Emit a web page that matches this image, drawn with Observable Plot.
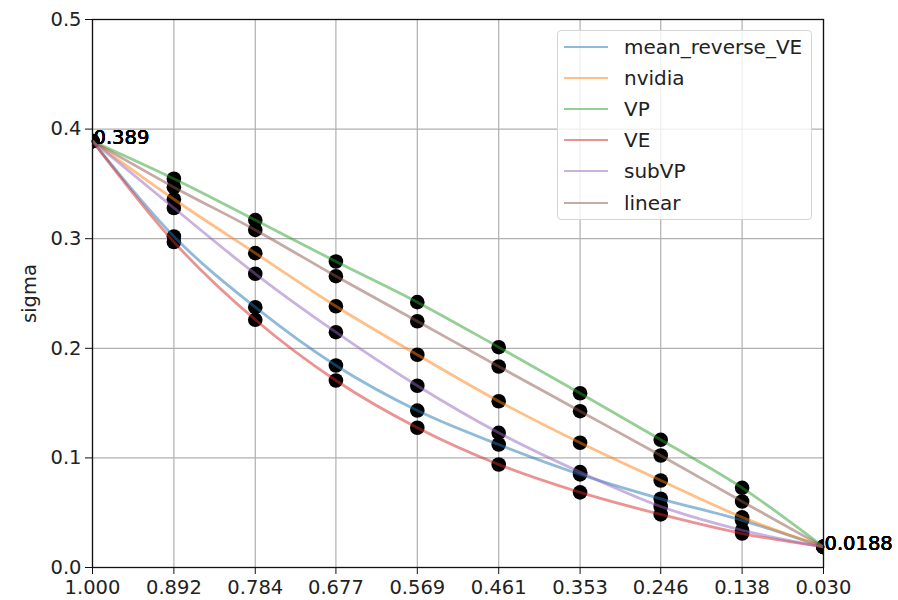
<!DOCTYPE html>
<html>
<head>
<meta charset="utf-8">
<script src="https://cdn.jsdelivr.net/npm/d3@7"></script>
<script src="https://cdn.jsdelivr.net/npm/@observablehq/plot@0.6"></script>
<style>
  body { margin: 0; background: white; }
  #wrap { position: relative; width: 898px; height: 600px; font-family: "DejaVu Sans", sans-serif; }
  #legend { position: absolute; left: 557px; top: 30px; width: 255px; height: 190px;
    background: rgba(255,255,255,0.8); border: 1px solid #d5d5d5; border-radius: 4px; box-sizing: border-box; }
  .row { position: absolute; left: 0; height: 31px; width: 100%; }
  .swatch { position: absolute; left: 6px; width: 44px; height: 0; border-top: 2.8px solid; }
  .lab { position: absolute; left: 66px; font-size: 20px; color: #222; line-height: 20px; }
</style>
</head>
<body>
<div id="wrap"></div>
<script>
const tTicks = [1.000, 0.892, 0.784, 0.677, 0.569, 0.461, 0.353, 0.246, 0.138, 0.030];
const yTicks = [0, 0.1, 0.2, 0.3, 0.4, 0.5];

const seriesNames = ["mean_reverse_VE", "nvidia", "VP", "VE", "subVP", "linear"];
const seriesColors = ["#1f77b4", "#ff7f0e", "#2ca02c", "#d62728", "#9467bd", "#8c564b"];

const meanReverseVE = [0.389, 0.302, 0.2375, 0.1843, 0.1432, 0.1122, 0.085, 0.0627, 0.043, 0.0188];
const nvidia        = [0.389, 0.336, 0.2868, 0.2384, 0.1941, 0.1517, 0.1138, 0.0794, 0.0458, 0.0188];
const VP            = [0.389, 0.3547, 0.317, 0.2792, 0.2421, 0.201, 0.159, 0.1165, 0.0727, 0.0188];
const VE            = [0.389, 0.297, 0.226, 0.1706, 0.1275, 0.094, 0.0685, 0.0484, 0.031, 0.0188];
const subVP         = [0.389, 0.328, 0.268, 0.2147, 0.1658, 0.1229, 0.087, 0.0557, 0.034, 0.0188];
const linear        = [0.389, 0.347, 0.308, 0.2658, 0.2247, 0.1834, 0.1426, 0.1022, 0.0602, 0.0188];

const seriesValues = [meanReverseVE, nvidia, VP, VE, subVP, linear];

const data = [];
seriesNames.forEach((name, si) => {
  seriesValues[si].forEach((v, i) => data.push({series: name, t: tTicks[i], sigma: v}));
});
const annot = [];
seriesNames.forEach((name, si) => {
  const vals = seriesValues[si];
  annot.push({t: tTicks[0], sigma: vals[0], label: String(vals[0])});
  annot.push({t: tTicks[tTicks.length - 1], sigma: vals[vals.length - 1], label: String(vals[vals.length - 1])});
});

const chart = Plot.plot({
  width: 898,
  height: 600,
  marginLeft: 92,
  marginRight: 75,
  marginTop: 19,
  marginBottom: 33,
  style: {fontFamily: "DejaVu Sans, sans-serif", fontSize: "19.5px", color: "#222", background: "white"},
  x: {domain: [1.0, 0.03], label: null},
  y: {domain: [0, 0.5], label: null},
  color: {domain: seriesNames, range: seriesColors},
  marks: [
    Plot.gridX(tTicks, {stroke: "#b0b0b0", strokeOpacity: 1, strokeWidth: 1.2}),
    Plot.gridY(yTicks, {stroke: "#b0b0b0", strokeOpacity: 1, strokeWidth: 1.2}),
    Plot.dot(data, {x: "t", y: "sigma", r: 7.3, fill: "black", stroke: "none", clip: true}),
    Plot.line(data, {x: "t", y: "sigma", z: "series", stroke: "series", strokeOpacity: 0.5, strokeWidth: 2.8, curve: "monotone-x"}),
    Plot.frame({stroke: "#111", strokeWidth: 1.3}),
    Plot.axisX({ticks: tTicks, tickFormat: d3.format(".3f"), tickSize: 7, tickPadding: 6, stroke: "#111", fontSize: 19.5, label: null}),
    Plot.axisY({ticks: yTicks, tickFormat: d3.format(".1f"), tickSize: 7, tickPadding: 4, stroke: "#111", fontSize: 19.5,
      label: "sigma", labelAnchor: "center", labelArrow: "none", labelOffset: 70}),
    Plot.text(annot, {x: "t", y: "sigma", text: "label", textAnchor: "start", lineAnchor: "bottom", dx: 1, dy: 3, fontSize: 19.5, fill: "black"})
  ]
});
const wrap = document.getElementById("wrap");
wrap.appendChild(chart);

const legend = document.createElement("div");
legend.id = "legend";
seriesNames.forEach((name, i) => {
  const row = document.createElement("div");
  row.className = "row";
  row.style.top = (i * 31.2 + 0.5) + "px";
  const sw = document.createElement("div");
  sw.className = "swatch";
  sw.style.top = "14px";
  sw.style.borderTopColor = seriesColors[i];
  sw.style.opacity = 0.5;
  const lab = document.createElement("div");
  lab.className = "lab";
  lab.style.top = "5px";
  lab.textContent = name;
  row.appendChild(sw);
  row.appendChild(lab);
  legend.appendChild(row);
});
wrap.appendChild(legend);
</script>
</body>
</html>
